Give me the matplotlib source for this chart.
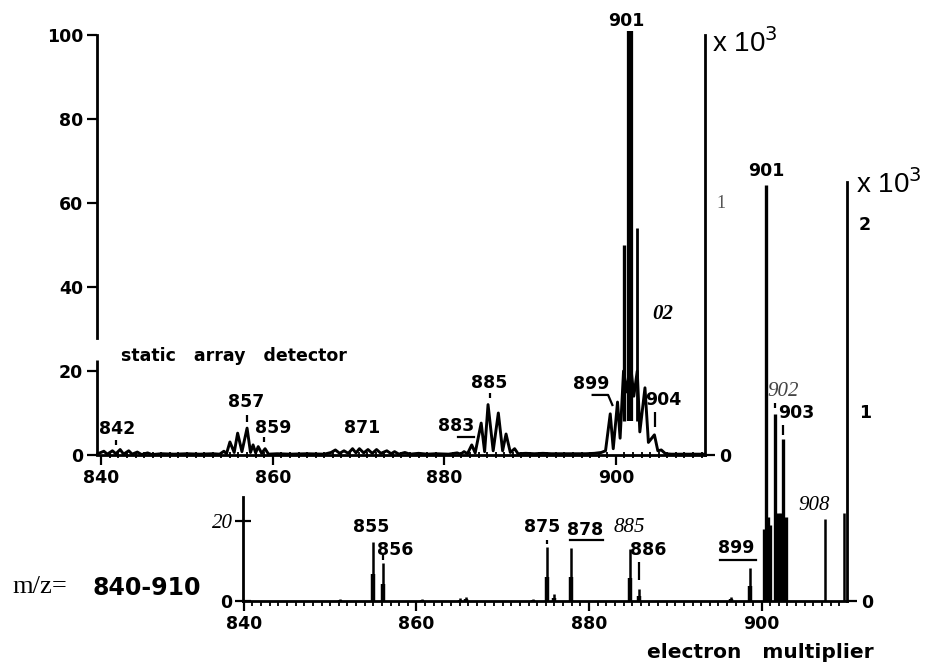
import matplotlib
matplotlib.use("Agg")
import matplotlib.pyplot as plt

SANS = "DejaVu Sans"
SERIF = "Liberation Serif"

# static array detector: profile trace (m/z, relative intensity %)
trace_mz = [
    839.6, 840.3, 840.7, 841.3, 841.7, 842.2, 842.6, 843.2, 843.6, 844.2,
    844.7, 845.4, 845.9, 847.0, 848.5, 850.0, 851.5, 853.0, 853.8, 854.3,
    854.6, 855.0, 855.5, 855.9, 856.4, 857.0, 857.4, 857.7, 858.0, 858.3,
    858.7, 859.1, 859.5, 860.5, 862.0, 864.0, 866.0, 866.8, 867.3, 867.8,
    868.3, 868.8, 869.3, 869.7, 870.1, 870.6, 871.1, 871.6, 872.1, 872.6,
    873.3, 873.8, 874.2, 874.7, 875.4, 876.0, 877.0, 878.0, 879.0, 880.5,
    881.5, 881.9, 882.3, 882.7, 883.2, 883.6, 884.3, 884.7, 885.1, 885.7,
    886.3, 886.8, 887.2, 887.7, 888.2, 888.6, 889.5, 890.5, 891.5, 892.5,
    893.5, 894.5, 895.5, 896.5, 897.5, 898.3, 898.8, 899.35, 899.7, 900.2,
    900.5, 900.9, 901.3, 901.7, 902.1, 902.5, 902.8, 903.4, 903.8, 904.5,
    904.9, 905.3, 905.8, 906.5, 908.0, 910.3,
]
trace_int = [
    0.3, 0.9, 0.2, 1.0, 0.3, 1.3, 0.2, 1.0, 0.2, 0.7,
    0.1, 0.5, 0.1, 0.3, 0.2, 0.3, 0.2, 0.3, 0.2, 0.9,
    0.3, 3.1, 0.6, 5.2, 0.8, 6.4, 0.6, 2.4, 0.5, 2.0,
    0.4, 1.5, 0.2, 0.3, 0.2, 0.3, 0.2, 0.6, 1.2, 0.4,
    1.0, 0.4, 1.5, 0.5, 1.5, 0.5, 1.3, 0.4, 1.3, 0.4,
    1.0, 0.3, 0.8, 0.2, 0.6, 0.2, 0.4, 0.2, 0.3, 0.2,
    0.5, 0.2, 0.8, 0.3, 2.4, 0.5, 7.6, 0.8, 12.0, 1.0,
    10.0, 1.0, 5.0, 0.6, 1.5, 0.3, 0.4, 0.3, 0.4, 0.3,
    0.3, 0.3, 0.3, 0.3, 0.4, 0.6, 1.0, 9.8, 1.5, 12.6,
    4.0, 20.0, 15.0, 22.0, 14.0, 20.0, 5.5, 16.0, 3.0, 4.8,
    1.0, 1.2, 0.3, 0.2, 0.2, 0.2,
]

# tall sticks over the 900-903 cluster (same units as left axis)
top_bar_mz = [900.9, 901.7, 902.5]
top_bar_int = [50, 101, 54]

# little marker dashes above labelled peaks
top_dash_mz = [841.75, 857.05, 859.0, 885.3, 904.6]
top_dash_lo = [2.4, 7.9, 3.1, 13.6, 6.7]
top_dash_hi = [3.6, 9.5, 4.3, 14.8, 10.2]

# electron multiplier: stick spectrum
em_mz = [851.1, 854.94, 856.1, 860.6, 865.0, 865.8, 873.5, 875.1, 875.9,
         877.9, 884.8, 885.75, 896.5, 898.7, 907.4, 909.6]
em_int = [0.6, 14.75, 9.5, 0.6, 0.8, 1.0, 0.5, 13.5, 1.7,
          13.25, 13.0, 3.0, 1.0, 8.3, 20.5, 22.0]
# the saturated 900-903 cluster
em_cl_mz = [900.3, 900.5, 900.75, 901.0, 901.5, 901.9, 902.2, 902.5, 902.8]
em_cl_int = [18, 104, 21, 19, 46.8, 22, 22, 40.5, 21]

em_dash_mz = [856.1, 875.1, 885.75, 901.5, 902.5]
em_dash_lo = [10.3, 14.3, 5.3, 48.2, 41.5]
em_dash_hi = [11.5, 15.3, 9.8, 49.5, 44.0]

top_yticks = [0, 20, 40, 60, 80, 100]
x_labels = [840, 860, 880, 900]

W, H = 933, 665
fig = plt.figure(figsize=(W / 100, H / 100), dpi=100)


def box(x0, y_base, x1, y_top):
    """pixel box -> figure fraction rect"""
    return [x0 / W, 1 - y_base / H, (x1 - x0) / W, (y_base - y_top) / H]


def bold_labels(labels):
    for lab in labels:
        lab.set_fontweight("bold")


LW = 2.0
tk = dict(family=SANS, fontweight="bold", fontsize=12.5, ha="center",
          va="center")
tk_side = dict(family=SANS, fontweight="bold", fontsize=12.5)

# ---------------- top panel: static array detector ----------------
ax1 = fig.add_axes(box(97, 455, 705, 35))
ax1.set_xlim(839.5, 910.4)
ax1.set_ylim(0, 100)
ax1.patch.set_alpha(0)
for s in ["top", "right"]:
    ax1.spines[s].set_visible(False)
ax1.spines["left"].set_bounds(27.9, 100)
ax1.spines["left"].set_linewidth(LW)
ax1.spines["bottom"].set_linewidth(LW)
ax1.plot([839.5, 839.5], [0, 22.6], color="k", lw=LW, clip_on=False,
         solid_capstyle="butt")
ax1.set_yticks(top_yticks)
ax1.tick_params(axis="y", direction="out", length=7, width=1.6, pad=3,
                labelsize=12.5)
bold_labels(ax1.get_yticklabels())
ax1.set_xticks(x_labels)
ax1.set_xticks(range(840, 911), minor=True)
ax1.tick_params(axis="x", which="major", direction="out", length=7,
                width=1.6, pad=3, labelsize=12.5)
ax1.tick_params(axis="x", which="minor", direction="inout", length=5,
                width=1.3)
bold_labels(ax1.get_xticklabels())

ax1.plot(trace_mz, trace_int, color="k", lw=2.1, clip_on=False,
         solid_joinstyle="round")
ax1.vlines(top_bar_mz, 8, top_bar_int, colors="k", lw=[2.4, 4.5, 2.0],
           clip_on=False)
ax1.vlines(top_dash_mz, top_dash_lo, top_dash_hi, colors="k", lw=1.6)

ax1.text(841.9, 6.2, "842", **tk)
ax1.text(856.9, 12.6, "857", **tk)
ax1.text(860.0, 6.4, "859", **tk)
ax1.text(870.4, 6.4, "871", **tk)
ax1.text(881.4, 6.9, "883", **tk)
ax1.plot([881.6, 883.5], [4.4, 4.4], color="k", lw=1.6)
ax1.text(885.2, 17.1, "885", **tk)
ax1.text(897.1, 16.9, "899", **tk)
ax1.plot([897.3, 899.1, 899.6], [14.3, 14.3, 11.9], color="k", lw=1.6)
ax1.text(905.5, 13.1, "904", **tk)
ax1.text(901.2, 103.4, "901", clip_on=False, **tk)
ax1.text(905.5, 33.6, "02", family=SERIF, style="italic", fontweight="bold",
         fontsize=15, ha="center", va="center")
ax1.text(842.3, 23.6, "static   array   detector", family=SANS,
         fontweight="bold", fontsize=12.5, ha="left", va="center")

ax1r = ax1.twinx()
ax1r.set_ylim(0, 420 / 252)
for s in ["top", "left", "bottom"]:
    ax1r.spines[s].set_visible(False)
ax1r.spines["right"].set_linewidth(LW)
ax1r.set_yticks([0])
ax1r.tick_params(axis="y", direction="out", length=7, width=1.6, pad=3,
                 labelsize=12.5)
bold_labels(ax1r.get_yticklabels())
ax1r.text(910.4 + 1.9, 1.0, "1", family=SERIF, color="#555555",
          fontsize=13, ha="center", va="center", clip_on=False)

# ---------------- bottom panel: electron multiplier ----------------
ax2 = fig.add_axes(box(243, 601, 847, 182))
ax2.set_xlim(839.9, 909.9)
ax2.set_ylim(0, 104.75)
ax2.patch.set_alpha(0)
for s in ["top", "right"]:
    ax2.spines[s].set_visible(False)
ax2.spines["left"].set_bounds(0, 26)
ax2.spines["left"].set_linewidth(LW)
ax2.spines["bottom"].set_linewidth(LW)
ax2.set_yticks([0, 20])
ax2.set_yticklabels(["0", "20"])
ax2.tick_params(axis="y", direction="inout", length=11, width=1.6, pad=2,
                labelsize=12.5)
yl = ax2.get_yticklabels()
yl[0].set_fontweight("bold")
yl[1].set_family(SERIF)
yl[1].set_style("italic")
yl[1].set_fontsize(15)
ax2.set_xticks(x_labels)
ax2.set_xticks(range(840, 910), minor=True)
ax2.tick_params(axis="x", which="major", direction="out", length=7,
                width=1.6, pad=3, labelsize=12.5)
ax2.tick_params(axis="x", which="minor", direction="out", length=3.5,
                width=1.3)
bold_labels(ax2.get_xticklabels())

# sticks: thin full height, thicker foot on the narrow peaks
ax2.vlines(em_mz, 0, em_int, colors="k", lw=1.8, clip_on=False)
foot_mz = [m for m, v in zip(em_mz, em_int) if v < 16]
foot_top = [v * 0.45 for v in em_int if v < 16]
ax2.vlines(foot_mz, 0, foot_top, colors="k", lw=3.2, clip_on=False)
ax2.vlines(em_cl_mz, 0, em_cl_int, colors="k", lw=2.4, clip_on=False)
ax2.vlines(em_dash_mz, em_dash_lo, em_dash_hi, colors="k", lw=1.6,
           clip_on=False)

ax2.text(854.8, 18.5, "855", **tk)
ax2.text(857.5, 12.75, "856", **tk)
ax2.text(874.6, 18.5, "875", **tk)
ax2.text(879.5, 17.75, "878", **tk)
ax2.plot([877.8, 881.6], [15.25, 15.25], color="k", lw=1.6)
ax2.text(884.7, 18.5, "885", family=SERIF, style="italic", fontsize=15,
         ha="center", va="center")
ax2.text(886.9, 12.75, "886", **tk)
ax2.text(897.1, 13.25, "899", **tk)
ax2.plot([895.2, 899.3], [10.25, 10.25], color="k", lw=1.6)
ax2.text(900.6, 107.5, "901", clip_on=False, **tk)
ax2.text(902.55, 52.5, "902", family=SERIF, style="italic", fontsize=15,
         color="#444444", ha="center", va="center")
ax2.text(904.05, 47.0, "903", **tk)
ax2.text(906.1, 23.75, "908", family=SERIF, style="italic", fontsize=15,
         ha="center", va="center")

ax2r = ax2.twinx()
ax2r.set_ylim(0, 419 / 188)
for s in ["top", "left", "bottom"]:
    ax2r.spines[s].set_visible(False)
ax2r.spines["right"].set_linewidth(LW)
ax2r.set_yticks([0])
ax2r.tick_params(axis="y", direction="out", length=7, width=1.6, pad=3,
                 labelsize=12.5)
bold_labels(ax2r.get_yticklabels())
ax2r.text(909.9 + 2.1, 1.0, "1", ha="center", va="center", clip_on=False,
          **tk_side)
ax2r.text(909.9 + 2.1, 2.0, "2", ha="center", va="center", clip_on=False,
          **tk_side)

# scale factors and captions (figure pixel positions)
fig.text(712 / W, 1 - 52 / H, r"x 10$^3$", family="Liberation Sans",
         fontsize=20, ha="left", va="baseline")
fig.text(856 / W, 1 - 193 / H, r"x 10$^3$", family="Liberation Sans",
         fontsize=20, ha="left", va="baseline")
fig.text(12 / W, 1 - 593 / H, "m/z=", family=SERIF, fontsize=19,
         ha="left", va="baseline")
fig.text(92 / W, 1 - 595 / H, "840-910", family=SANS, fontweight="bold",
         fontsize=17, ha="left", va="baseline")
fig.text(760 / W, 1 - 653 / H, "electron   multiplier", family=SANS,
         fontweight="bold", fontsize=14.5, ha="center", va="center")

fig.savefig("out.png", dpi=100)
